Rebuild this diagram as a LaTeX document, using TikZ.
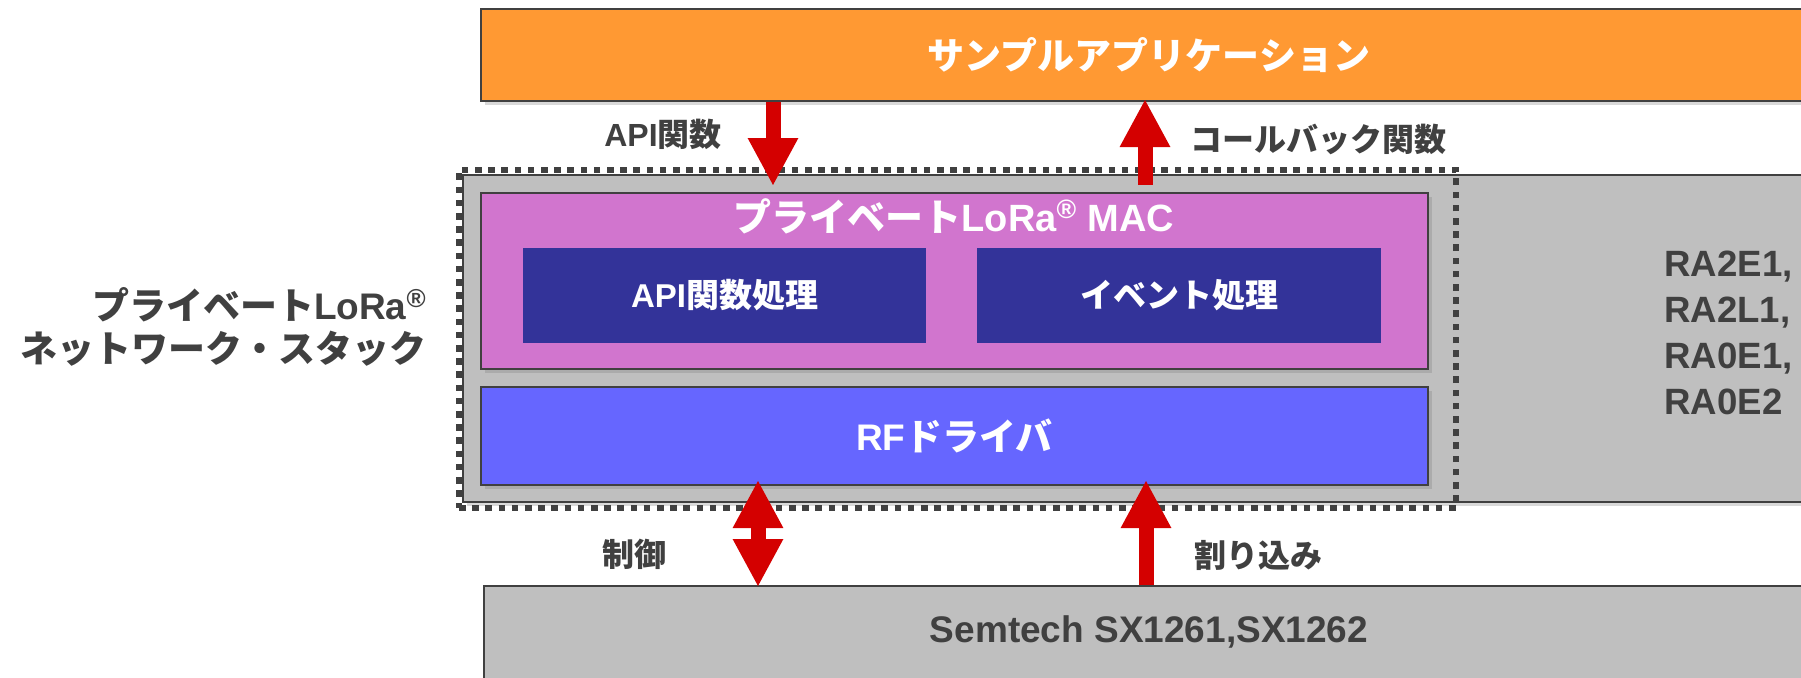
\documentclass[tikz,border=0pt]{standalone}
\usepackage{fontspec}
\setmainfont{Liberation Sans}
\newfontfamily\jp{Noto Sans CJK JP}
\usetikzlibrary{fit,shadows,arrows.meta}
\definecolor{orangeF}{HTML}{FF9933}
\definecolor{greyF}{HTML}{BFBFBF}
\definecolor{macF}{HTML}{D175CE}
\definecolor{rfF}{HTML}{6666FF}
\definecolor{innerF}{HTML}{333399}
\definecolor{arrowR}{HTML}{D40000}
\definecolor{txt}{HTML}{404040}
\definecolor{edgeC}{HTML}{404040}
\begin{document}
\begin{tikzpicture}[x=0.5pt,y=-0.5pt,
  box/.style={draw=edgeC,line width=1pt,inner sep=0pt},
  shd/.style={drop shadow={shadow xshift=2pt,shadow yshift=-2pt,opacity=0.3}},
  wtitle/.style={text=white,inner sep=0pt,font=\bfseries\fontsize{18.5}{22}\selectfont},
  wsmall/.style={text=white,inner sep=0pt,font=\bfseries\fontsize{16.5}{20}\selectfont},
  lbl/.style={text=txt,inner sep=0pt,font=\bfseries\fontsize{16}{19}\selectfont},
  bigtext/.style={text=txt,inner sep=0pt,font=\bfseries\fontsize{18.5}{22}\selectfont},
  bigarrow/.style={draw=arrowR,line width=7.5pt,-{Triangle[length=24pt,width=23.5pt]}},
  dblarrow/.style={draw=arrowR,line width=7.5pt,{Triangle[length=24pt,width=23.5pt]}-{Triangle[length=24pt,width=23.5pt]}},
]
\useasboundingbox (0,0) rectangle (1801,677);
% application
\node[box,shd,fill=orangeF,fit={(481,9) (1817,101)}] (app) {};
\node[wtitle] (apptxt) at (app.center) {\jp サンプルアプリケーション};
% MCU box
\node[box,shd,fill=greyF,fit={(463,175) (1830,502)}] (mcu) {};
\node[bigtext,anchor=west,align=left,font=\bfseries\fontsize{18.3}{23}\selectfont] (ra) at (1664,333) {RA2E1,\\RA2L1,\\RA0E1,\\RA0E2};
% dotted stack box
\node[draw=edgeC,line width=3pt,dash pattern=on 3.3pt off 3.3pt,inner sep=0pt,fit={(459,169.5) (1456,508)}] (stack) {};
% MAC
\node[box,shd,fill=macF,fit={(481,193) (1428,369)}] (mac) {};
\node[wtitle,font=\bfseries\fontsize{19}{22}\selectfont] (mactxt) at (954,216) {{\jp プライベート}LoRa\textsuperscript{®} MAC};
\node[inner sep=0pt,fill=innerF,fit={(523,248) (926,343)}] (apiproc) {};
\node[wsmall] (apiproctxt) at (apiproc.center) {API{\jp 関数処理}};
\node[inner sep=0pt,fill=innerF,fit={(977,248) (1381,343)}] (evproc) {};
\node[wsmall] (evproctxt) at (evproc.center) {\jp イベント処理};
% RF driver
\node[box,shd,fill=rfF,fit={(481,387) (1428,485)}] (rf) {};
\node[wtitle] (rftxt) at (rf.center) {RF{\jp ドライバ}};
% Semtech
\node[box,shd,fill=greyF,fit={(484,586) (1814,690)}] (sx) {};
\node[bigtext] (sxtxt) at (1149,632) {Semtech SX1261,SX1262};
% left label
\node[bigtext,anchor=east,align=right,font=\bfseries\fontsize{18.5}{21.5}\selectfont] (stacklbl) at (427,327) {{\jp プライベート}LoRa\textsuperscript{®}\\{\jp ネットワーク・スタック}};
% arrows
\coordinate (xa) at (773,0);
\coordinate (xb) at (1145,0);
\coordinate (xc) at (758,0);
\coordinate (xd) at (1146,0);
\draw[bigarrow] (app.south -| xa) -- ([yshift=3pt]mac.north -| xa);
\draw[bigarrow] ([yshift=3.5pt]mac.north -| xb) -- ([yshift=1.5pt]app.south -| xb);
\draw[dblarrow] ([yshift=-1pt]sx.north -| xc) -- ([yshift=3pt]rf.south -| xc);
\draw[bigarrow] (sx.north -| xd) -- ([yshift=3pt]rf.south -| xd);
% arrow labels
\node[lbl] (l1) at (663,134) {API{\jp 関数}};
\node[lbl] (l2) at (1318,139) {\jp コールバック関数};
\node[lbl] (l3) at (634,554) {\jp 制御};
\node[lbl] (l4) at (1258,555) {\jp 割り込み};
\end{tikzpicture}
\end{document}
